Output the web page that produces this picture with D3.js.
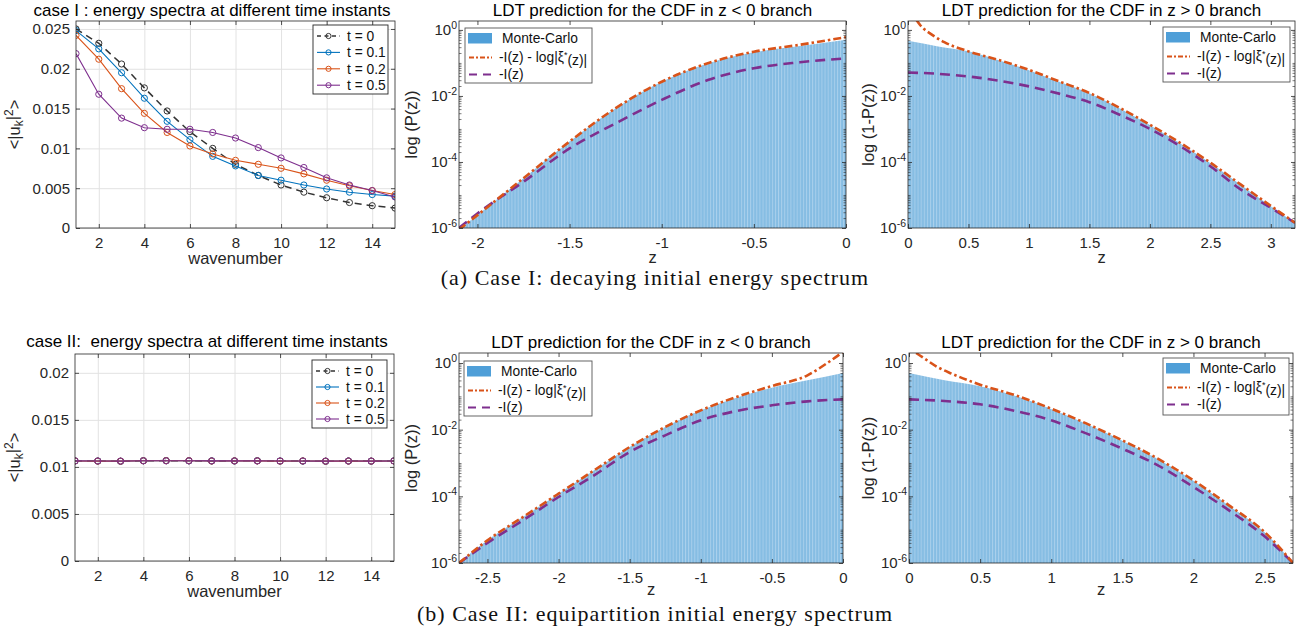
<!DOCTYPE html>
<html>
<head>
<meta charset="utf-8">
<script src="https://cdn.jsdelivr.net/npm/d3@7"></script>
<style>
  body { margin: 0; background: #fff; }
  svg { display: block; font-family: "Liberation Sans", Arial, Helvetica, sans-serif; }
</style>
</head>
<body>
<script>
// ---------- data ----------
const wavenumber = [1, 2, 3, 4, 5, 6, 7, 8, 9, 10, 11, 12, 13, 14, 15];
const timeLabels = ['t = 0', 't = 0.1', 't = 0.2', 't = 0.5'];

// case I energy spectra <|u_k|^2>
const caseI_t0  = [0.0250, 0.0232, 0.0206, 0.0176, 0.0147, 0.0121, 0.0100, 0.0080, 0.0066, 0.0054, 0.0045, 0.0038, 0.0032, 0.0028, 0.0025];
const caseI_t01 = [0.0248, 0.0225, 0.0195, 0.0163, 0.0134, 0.0111, 0.0090, 0.0078, 0.0066, 0.0060, 0.0054, 0.0049, 0.0045, 0.0042, 0.0040];
const caseI_t02 = [0.0242, 0.0212, 0.0175, 0.0144, 0.0120, 0.0103, 0.0093, 0.0085, 0.0080, 0.0075, 0.0068, 0.0060, 0.0053, 0.0047, 0.0042];
const caseI_t05 = [0.0219, 0.0168, 0.0138, 0.0126, 0.0124, 0.0124, 0.0120, 0.0113, 0.0101, 0.0088, 0.0076, 0.0063, 0.0054, 0.0047, 0.0039];

// case II energy spectra (equipartition)
const caseII_t0  = [0.01064, 0.01062, 0.01060, 0.01066, 0.01067, 0.01065, 0.01063, 0.01064, 0.01065, 0.01062, 0.01063, 0.01060, 0.01063, 0.01061, 0.01064];
const caseII_t01 = [0.01063, 0.01063, 0.01061, 0.01065, 0.01066, 0.01065, 0.01064, 0.01063, 0.01065, 0.01063, 0.01062, 0.01061, 0.01063, 0.01062, 0.01064];
const caseII_t02 = [0.01063, 0.01062, 0.01061, 0.01065, 0.01066, 0.01066, 0.01063, 0.01064, 0.01064, 0.01062, 0.01063, 0.01061, 0.01062, 0.01062, 0.01063];
const caseII_t05 = [0.01064, 0.01063, 0.01062, 0.01065, 0.01065, 0.01065, 0.01064, 0.01064, 0.01064, 0.01063, 0.01063, 0.01062, 0.01063, 0.01062, 0.01063];

// CDF branches: [z, log10 value]
const caseI_neg_mc  = [[-2.1,-6.05],[-2.0,-5.61],[-1.75,-4.49],[-1.5,-3.38],[-1.25,-2.37],[-1.0,-1.57],[-0.75,-1.02],[-0.5,-0.68],[-0.25,-0.49],[0,-0.30]];
const caseI_neg_ldt = [[-2.1,-6.05],[-2.0,-5.61],[-1.75,-4.49],[-1.5,-3.38],[-1.25,-2.37],[-1.0,-1.57],[-0.75,-1.01],[-0.5,-0.66],[-0.25,-0.45],[0,-0.22]];
const caseI_neg_I   = [[-2.1,-6.0],[-2.0,-5.56],[-1.75,-4.6],[-1.5,-3.59],[-1.25,-2.83],[-1.0,-2.12],[-0.75,-1.52],[-0.5,-1.16],[-0.25,-0.98],[0,-0.86]];

const caseI_pos_mc  = [[0,-0.33],[0.25,-0.50],[0.5,-0.65],[0.75,-0.92],[1.0,-1.22],[1.25,-1.57],[1.5,-1.92],[1.75,-2.37],[2.0,-2.88],[2.25,-3.43],[2.5,-4.03],[2.75,-4.69],[3.0,-5.34],[3.2,-5.85]];
const caseI_pos_ldt = [[0.07,0.30],[0.1,0.15],[0.2,-0.15],[0.3,-0.37],[0.5,-0.65],[0.75,-0.91],[1.0,-1.21],[1.25,-1.56],[1.5,-1.91],[1.75,-2.36],[2.0,-2.87],[2.25,-3.42],[2.5,-4.02],[2.75,-4.68],[3.0,-5.33],[3.2,-5.84]];
const caseI_pos_I   = [[0,-1.29],[0.25,-1.33],[0.5,-1.41],[0.75,-1.54],[1.0,-1.71],[1.25,-1.93],[1.5,-2.19],[1.75,-2.57],[2.0,-3.0],[2.25,-3.52],[2.5,-4.13],[2.75,-4.83],[3.0,-5.39],[3.2,-5.84]];

const caseII_neg_mc  = [[-2.7,-6.0],[-2.5,-5.32],[-2.25,-4.62],[-2.0,-3.92],[-1.75,-3.22],[-1.5,-2.52],[-1.25,-1.92],[-1.0,-1.42],[-0.75,-1.04],[-0.5,-0.74],[-0.25,-0.52],[0,-0.30]];
const caseII_neg_ldt = [[-2.7,-6.0],[-2.5,-5.32],[-2.25,-4.62],[-2.0,-3.92],[-1.75,-3.22],[-1.5,-2.52],[-1.25,-1.92],[-1.0,-1.42],[-0.75,-1.02],[-0.5,-0.69],[-0.25,-0.37],[-0.1,0.03],[0,0.33]];
const caseII_neg_I   = [[-2.7,-6.0],[-2.5,-5.4],[-2.25,-4.72],[-2.0,-4.02],[-1.75,-3.37],[-1.5,-2.67],[-1.25,-2.17],[-1.0,-1.72],[-0.75,-1.44],[-0.5,-1.27],[-0.25,-1.15],[0,-1.09]];

const caseII_pos_mc  = [[0,-0.30],[0.25,-0.52],[0.5,-0.70],[0.75,-0.99],[1.0,-1.38],[1.25,-1.83],[1.5,-2.33],[1.75,-2.88],[2.0,-3.53],[2.25,-4.28],[2.5,-5.08],[2.7,-6.0]];
const caseII_pos_ldt = [[0.05,0.30],[0.1,0.16],[0.2,-0.12],[0.3,-0.32],[0.5,-0.65],[0.75,-0.97],[1.0,-1.37],[1.25,-1.82],[1.5,-2.32],[1.75,-2.87],[2.0,-3.52],[2.25,-4.27],[2.5,-5.07],[2.7,-6.0]];
const caseII_pos_I   = [[0,-1.09],[0.25,-1.14],[0.5,-1.24],[0.75,-1.44],[1.0,-1.72],[1.25,-2.12],[1.5,-2.57],[1.75,-3.07],[2.0,-3.72],[2.25,-4.42],[2.5,-5.2],[2.7,-6.0]];

const spectrumTicksX = [2, 4, 6, 8, 10, 12, 14];
const logTicksY = [1e-6, 1e-4, 1e-2, 1];

// ---------- styling ----------
const AX = '#262626';
const GRID = '#e2e2e2';
const COL = { t0: '#333333', t01: '#0072BD', t02: '#D95319', t05: '#7E2F8E' };
const ORANGE = '#D95319', PURPLE = '#7E2F8E';
const FONT = '"Liberation Sans", Arial, Helvetica, sans-serif';
const TICK_FS = 15, LABEL_FS = 16.5, TITLE_FS = 17, LEG_FS = 13.8;

const svg = d3.select('body').append('svg').attr('width', 1298).attr('height', 634);
const defs = svg.append('defs');

// striped fill imitating many thin histogram bins
const pat = defs.append('pattern').attr('id', 'bins').attr('patternUnits', 'userSpaceOnUse')
  .attr('width', 3.1).attr('height', 10);
pat.append('rect').attr('width', 3.1).attr('height', 10).attr('fill', '#86bde3');
pat.append('rect').attr('width', 0.9).attr('height', 10).attr('fill', '#aad0ec');

let clipCount = 0;

function styleAxis(sel) {
  sel.attr('font-size', TICK_FS).attr('font-family', FONT);
  sel.select('.domain').remove();
  sel.selectAll('line').attr('stroke', AX).attr('stroke-width', 0.8);
  sel.selectAll('text').attr('fill', AX);
}

function makePanel(o) {
  const b = o.box;
  const g = svg.append('g');
  const x = d3.scaleLinear().domain(o.xDomain).range([b.l, b.r]);
  const y = (o.log ? d3.scaleLog() : d3.scaleLinear()).domain(o.yDomain).range([b.b, b.t]);
  const id = 'clip' + (clipCount++);
  defs.append('clipPath').attr('id', id).append('rect')
    .attr('x', b.l).attr('y', b.t).attr('width', b.r - b.l).attr('height', b.b - b.t);

  if (o.grid) {
    g.append('g').attr('transform', `translate(0,${b.b})`)
      .call(d3.axisBottom(x).tickValues(o.xTicks).tickSize(-(b.b - b.t)).tickFormat(''))
      .call(s => { s.select('.domain').remove(); s.selectAll('line').attr('stroke', GRID).attr('stroke-width', 1); });
    g.append('g').attr('transform', `translate(${b.l},0)`)
      .call(d3.axisLeft(y).tickValues(o.yTicks).tickSize(-(b.r - b.l)).tickFormat(''))
      .call(s => { s.select('.domain').remove(); s.selectAll('line').attr('stroke', GRID).attr('stroke-width', 1); });
  }
  const plot = g.append('g').attr('clip-path', `url(#${id})`);
  const front = svg.append('g');
  return { g, plot, front, x, y, b, o };
}

function finishPanel(p) {
  const { front, x, y, b, o } = p;
  const tl = 4;
  front.append('g').attr('transform', `translate(0,${b.b})`)
    .call(d3.axisBottom(x).tickValues(o.xTicks).tickSizeInner(-tl).tickSizeOuter(0).tickPadding(o.xPad)
      .tickFormat(d => String(d)))
    .call(styleAxis);
  front.append('g').attr('transform', `translate(0,${b.t})`)
    .call(d3.axisTop(x).tickValues(o.xTicks).tickSizeInner(-tl).tickSizeOuter(0).tickFormat(''))
    .call(styleAxis);

  const left = d3.axisLeft(y).tickValues(o.yTicks).tickSizeInner(-tl).tickSizeOuter(0);
  if (o.log) {
    left.tickPadding(2).tickFormat('');
  } else {
    left.tickPadding(6).tickFormat(d => d === 0 ? '0' : String(+d.toFixed(3)));
  }
  const la = front.append('g').attr('transform', `translate(${b.l},0)`).call(left).call(styleAxis);
  front.append('g').attr('transform', `translate(${b.r},0)`)
    .call(d3.axisRight(y).tickValues(o.yTicks).tickSizeInner(-tl).tickSizeOuter(0).tickFormat(''))
    .call(styleAxis);

  if (o.log) {
    // superscript decade labels
    la.selectAll('.tick text').each(function (d) {
      const t = d3.select(this).text('');
      t.append('tspan').text('10');
      t.append('tspan').attr('dy', '-0.6em').attr('font-size', 10.5).text(Math.round(Math.log10(d)));
    });
    // minor ticks
    const [lo, hi] = o.yDomain;
    const minor = [];
    for (let e = Math.floor(Math.log10(lo)); e <= Math.ceil(Math.log10(hi)); e++) {
      for (let m = 1; m < 10; m++) {
        const v = m * Math.pow(10, e);
        if (v >= lo && v <= hi && !(m === 1 && e % 2 === 0)) minor.push(v);
      }
    }
    front.append('g').attr('transform', `translate(${b.l},0)`)
      .call(d3.axisLeft(y).tickValues(minor).tickSizeInner(-2.5).tickSizeOuter(0).tickFormat(''))
      .call(styleAxis).selectAll('line').attr('stroke-width', 0.6);
    front.append('g').attr('transform', `translate(${b.r},0)`)
      .call(d3.axisRight(y).tickValues(minor).tickSizeInner(-2.5).tickSizeOuter(0).tickFormat(''))
      .call(styleAxis).selectAll('line').attr('stroke-width', 0.6);
  }

  front.append('rect').attr('x', b.l).attr('y', b.t).attr('width', b.r - b.l).attr('height', b.b - b.t)
    .attr('fill', 'none').attr('stroke', AX).attr('stroke-width', 0.8);

  // titles and labels
  front.append('text').attr('x', o.titleX !== undefined ? o.titleX : (b.l + b.r) / 2).attr('y', o.titleY)
    .attr('text-anchor', 'middle').attr('font-size', TITLE_FS).attr('fill', '#000')
    .style('white-space', 'pre').text(o.title);
  front.append('text').attr('x', (b.l + b.r) / 2).attr('y', o.xLabelY)
    .attr('text-anchor', 'middle').attr('font-size', LABEL_FS).attr('fill', AX).text(o.xLabel);
  const yl = front.append('text')
    .attr('transform', `translate(${o.yLabelX},${(b.t + b.b) / 2}) rotate(-90)`)
    .attr('text-anchor', 'middle').attr('dy', '0.35em').attr('font-size', LABEL_FS).attr('fill', AX);
  o.yLabel(yl);
}

// ---------- spectrum panels ----------
function spectrumPanel(box, yMax, yTicks, series, title, titleX, titleY, xLabelY, xPad, legendBox) {
  const p = makePanel({
    box, xDomain: [1, 15], yDomain: [0, yMax], xTicks: spectrumTicksX, yTicks, grid: true,
    title, titleX, titleY, xLabel: 'wavenumber', xLabelY, xPad, yLabelX: 14,
    yLabel: t => {
      t.append('tspan').text('<|u');
      t.append('tspan').attr('dy', '0.3em').attr('font-size', 12).text('k');
      t.append('tspan').attr('dy', '-0.3em').text('|');
      t.append('tspan').attr('dy', '-0.45em').attr('font-size', 12).text('2');
      t.append('tspan').attr('dy', '0.45em').text('>');
    }
  });
  const { plot, x, y } = p;
  const line = d3.line().x((d, i) => x(wavenumber[i])).y(d => y(d));
  series.forEach(s => {
    plot.append('path').datum(s.values).attr('fill', 'none').attr('stroke', s.color)
      .attr('stroke-width', s.dash ? 1.5 : 1.1).attr('stroke-dasharray', s.dash ? '7,5' : null).attr('d', line);
    plot.selectAll(null).data(s.values).join('circle')
      .attr('cx', (d, i) => x(wavenumber[i])).attr('cy', d => y(d)).attr('r', 3.1)
      .attr('fill', 'none').attr('stroke', s.color).attr('stroke-width', 1);
  });
  finishPanel(p);

  // legend
  const lg = svg.append('g');
  lg.append('rect').attr('x', legendBox.x).attr('y', legendBox.y).attr('width', legendBox.w).attr('height', legendBox.h)
    .attr('fill', '#fff').attr('stroke', AX).attr('stroke-width', 0.9);
  series.forEach((s, i) => {
    const yy = legendBox.y + legendBox.row0 + i * legendBox.dy;
    const x0 = legendBox.x + 4, x1 = legendBox.x + 27, xm = legendBox.x + 15.5;
    lg.append('line').attr('x1', x0).attr('x2', x1).attr('y1', yy).attr('y2', yy)
      .attr('stroke', s.color).attr('stroke-width', s.dash ? 1.3 : 1.1).attr('stroke-dasharray', s.dash ? '4,3.5' : null);
    lg.append('circle').attr('cx', xm).attr('cy', yy).attr('r', 2.6).attr('fill', 'none')
      .attr('stroke', s.color).attr('stroke-width', 1);
    lg.append('text').attr('x', legendBox.x + 34).attr('y', yy).attr('dy', '0.36em')
      .attr('font-size', LEG_FS).attr('fill', '#111').text(s.label);
  });
}

function seriesOf(arrs) {
  const keys = ['t0', 't01', 't02', 't05'];
  return arrs.map((v, i) => ({ values: v, color: COL[keys[i]], label: timeLabels[i], dash: i === 0 }));
}

spectrumPanel({ l: 76, r: 395, t: 21, b: 228 }, 0.026, [0, 0.005, 0.01, 0.015, 0.02, 0.025],
  seriesOf([caseI_t0, caseI_t01, caseI_t02, caseI_t05]),
  'case I : energy spectra at different time instants', 212, 16, 264, 9,
  { x: 313, y: 25, w: 75, h: 69, row0: 11, dy: 16.4 });

spectrumPanel({ l: 75, r: 394, t: 354, b: 561 }, 0.022, [0, 0.005, 0.01, 0.015, 0.02],
  seriesOf([caseII_t0, caseII_t01, caseII_t02, caseII_t05]),
  'case II:  energy spectra at different time instants', 207, 347, 597, 9,
  { x: 312, y: 360, w: 75, h: 68, row0: 11, dy: 16 });

// ---------- CDF panels ----------
function cdfPanel(box, xDomain, yTop, xTicks, mc, ldt, rateI, title, titleY, xLabelY, xPad, yLabelX, yText, legendBox) {
  const p = makePanel({
    box, xDomain, yDomain: [1e-6, Math.pow(10, yTop)], xTicks, yTicks: logTicksY, log: true,
    title, titleY, xLabel: 'z', xLabelY, yLabelX, xPad,
    yLabel: t => t.text(yText)
  });
  const { plot, x, y, b } = p;
  const pow = d => Math.pow(10, d[1]);
  plot.append('path').datum(mc).attr('fill', 'url(#bins)')
    .attr('d', d3.area().curve(d3.curveMonotoneX).x(d => x(d[0])).y0(b.b).y1(d => y(pow(d))));
  const line = d3.line().curve(d3.curveMonotoneX).x(d => x(d[0])).y(d => y(pow(d)));
  plot.append('path').datum(rateI).attr('fill', 'none').attr('stroke', PURPLE).attr('stroke-width', 2.6)
    .attr('stroke-dasharray', '10,6').attr('d', line);
  plot.append('path').datum(ldt).attr('fill', 'none').attr('stroke', ORANGE).attr('stroke-width', 2.6)
    .attr('stroke-dasharray', '8,3,2.5,3').attr('d', line);
  finishPanel(p);

  const lg = svg.append('g');
  const L = legendBox;
  lg.append('rect').attr('x', L.x).attr('y', L.y).attr('width', L.w).attr('height', L.h)
    .attr('fill', '#fff').attr('stroke', '#555').attr('stroke-width', 0.9);
  const rows = [L.y + 10, L.y + 29.5, L.y + 46.5];
  lg.append('rect').attr('x', L.x + 3).attr('y', rows[0] - 5).attr('width', 24).attr('height', 10.5).attr('fill', '#4f9fd8');
  lg.append('line').attr('x1', L.x + 4).attr('x2', L.x + 27).attr('y1', rows[1]).attr('y2', rows[1])
    .attr('stroke', ORANGE).attr('stroke-width', 2.2).attr('stroke-dasharray', '5,2,2,2');
  lg.append('line').attr('x1', L.x + 4).attr('x2', L.x + 27).attr('y1', rows[2]).attr('y2', rows[2])
    .attr('stroke', PURPLE).attr('stroke-width', 2.2).attr('stroke-dasharray', '8,6');
  lg.append('text').attr('x', L.x + 37).attr('y', rows[0]).attr('dy', '0.36em').attr('font-size', LEG_FS).attr('fill', '#111').text('Monte-Carlo');
  const t2 = lg.append('text').attr('x', L.x + 34).attr('y', rows[1]).attr('dy', '0.36em').attr('font-size', LEG_FS).attr('fill', '#111');
  t2.append('tspan').text('-I(z) - log|ξ');
  t2.append('tspan').attr('dy', '-0.5em').attr('font-size', 9).text('*');
  t2.append('tspan').attr('dy', '0.5em').text('(z)|');
  lg.append('text').attr('x', L.x + 34).attr('y', rows[2]).attr('dy', '0.36em').attr('font-size', LEG_FS).attr('fill', '#111').text('-I(z)');
}

const negTitle = 'LDT prediction for the CDF in z < 0 branch';
const posTitle = 'LDT prediction for the CDF in z > 0 branch';

cdfPanel({ l: 459, r: 846, t: 21, b: 228 }, [-2.1, 0], 0.27, [-2, -1.5, -1, -0.5, 0],
  caseI_neg_mc, caseI_neg_ldt, caseI_neg_I, negTitle, 16, 263, 9, 411, 'log (P(z))',
  { x: 465, y: 28, w: 127, h: 55 });
cdfPanel({ l: 908, r: 1295, t: 21, b: 228 }, [0, 3.2], 0.27, [0, 0.5, 1, 1.5, 2, 2.5, 3],
  caseI_pos_mc, caseI_pos_ldt, caseI_pos_I, posTitle, 16, 263, 9, 868, 'log (1-P(z))',
  { x: 1163, y: 27, w: 127, h: 55 });
cdfPanel({ l: 459, r: 843, t: 353, b: 563 }, [-2.7, 0], 0.3, [-2.5, -2, -1.5, -1, -0.5, 0],
  caseII_neg_mc, caseII_neg_ldt, caseII_neg_I, negTitle, 348, 595, 9, 411, 'log (P(z))',
  { x: 464, y: 361, w: 128, h: 55 });
cdfPanel({ l: 909, r: 1293, t: 353, b: 563 }, [0, 2.7], 0.3, [0, 0.5, 1, 1.5, 2, 2.5],
  caseII_pos_mc, caseII_pos_ldt, caseII_pos_I, posTitle, 348, 595, 9, 868, 'log (1-P(z))',
  { x: 1163, y: 358, w: 126, h: 57 });

// ---------- sub-figure captions ----------
const captions = ['(a) Case I: decaying initial energy spectrum', '(b) Case II: equipartition initial energy spectrum'];
[285, 621].forEach((yy, i) => {
  svg.append('text').attr('x', 655).attr('y', yy).attr('text-anchor', 'middle')
    .attr('font-family', '"Liberation Serif", "Times New Roman", serif').attr('font-size', 22)
    .attr('letter-spacing', 1).attr('fill', '#111').text(captions[i]);
});
</script>
</body>
</html>
